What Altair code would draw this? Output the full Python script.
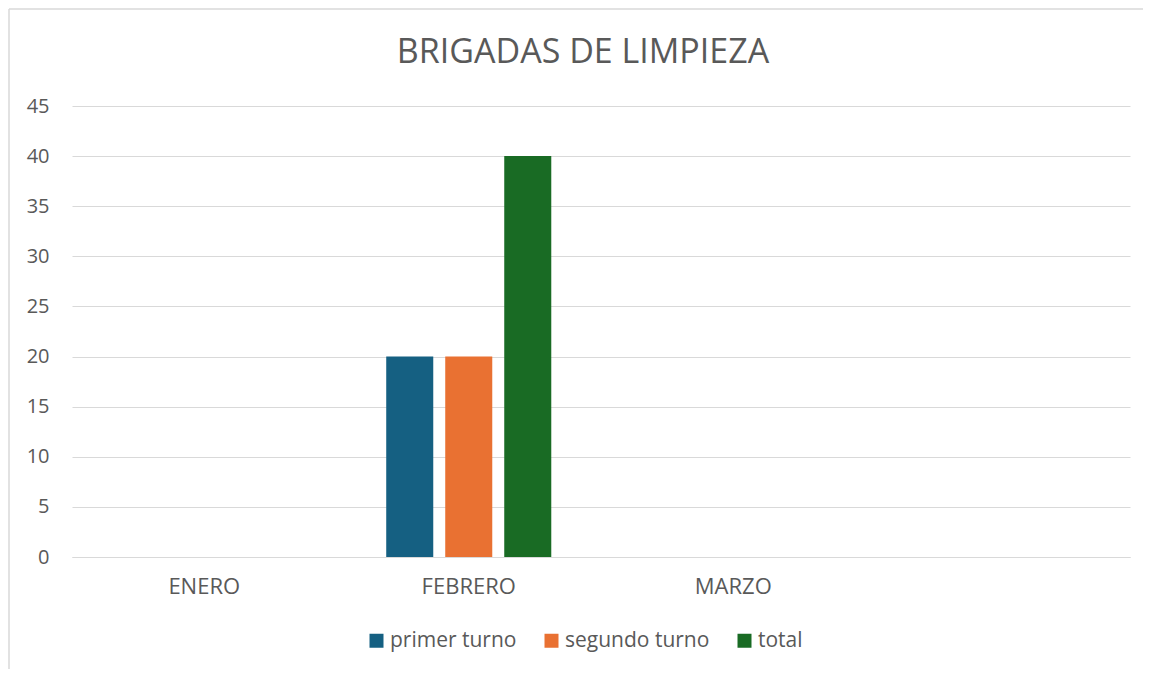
import altair as alt
import pandas as pd

months = ["ENERO", "FEBRERO", "MARZO", ""]
series = ["primer turno", "segundo turno", "total"]
primer_turno = [None, 20, None, None]
segundo_turno = [None, 20, None, None]
total = [None, 40, None, None]
colors = ["#156082", "#E97132", "#196B24"]
y_ticks = [0, 5, 10, 15, 20, 25, 30, 35, 40, 45]
title_text = "BRIGADAS DE LIMPIEZA"

rows = []
for name, vals in zip(series, [primer_turno, segundo_turno, total]):
    for m, v in zip(months, vals):
        if v is not None:
            rows.append({"mes": m, "serie": name, "valor": v})
df = pd.DataFrame(rows)

FONT = "Open Sans"
TXT = "#595959"
GRID = "#d9d9d9"

bars = alt.Chart(df).mark_bar().encode(
    x=alt.X("mes:N", sort=months,
            scale=alt.Scale(domain=months, paddingInner=0.376, paddingOuter=0.188),
            axis=alt.Axis(title=None, labelAngle=0, ticks=False, domain=True,
                          domainColor=GRID, domainWidth=1, labelPadding=19,
                          labelFontSize=22, labelColor=TXT, labelFont=FONT, grid=False)),
    xOffset=alt.XOffset("serie:N", sort=series,
                        scale=alt.Scale(domain=series, paddingInner=0.203, paddingOuter=0)),
    y=alt.Y("valor:Q", scale=alt.Scale(domain=[0, 45], nice=False),
            axis=alt.Axis(title=None, values=y_ticks, ticks=False, tickSize=0, domain=False,
                          grid=True, gridColor=GRID, gridWidth=1, labelPadding=23,
                          labelFontSize=20, labelColor=TXT, labelFont=FONT)),
    color=alt.Color("serie:N", sort=series,
                    scale=alt.Scale(domain=series, range=colors),
                    legend=alt.Legend(title=None, orient="none", direction="horizontal",
                                      legendX=294, legendY=524,
                                      symbolType="square", symbolSize=196, symbolStrokeWidth=0,
                                      labelFontSize=21, labelColor=TXT, labelFont=FONT,
                                      columnPadding=24, labelOffset=3)),
)

title = alt.Chart(alt.Data(values=[{"t": title_text}])).mark_text(
    font=FONT, fontSize=34, color=TXT, baseline="alphabetic", align="center"
).encode(text="t:N", x=alt.value(511), y=alt.value(-43))

frame_top = alt.Chart(alt.Data(values=[{}])).mark_rule(
    color=GRID, strokeWidth=1.5
).encode(x=alt.value(-63), x2=alt.value(1300), y=alt.value(-97))

frame_left = alt.Chart(alt.Data(values=[{}])).mark_rule(
    color=GRID, strokeWidth=1.5
).encode(x=alt.value(-63), y=alt.value(-97), y2=alt.value(800))

chart = alt.layer(frame_top, frame_left, title, bars).properties(
    width=1058, height=451,
    autosize=alt.AutoSizeParams(type="none"),
    padding={"left": 64, "right": 13, "top": 98, "bottom": 112},
).configure(background="white").configure_view(stroke=None)

chart.save("out.html", embed_options={"renderer": "svg", "actions": False})
